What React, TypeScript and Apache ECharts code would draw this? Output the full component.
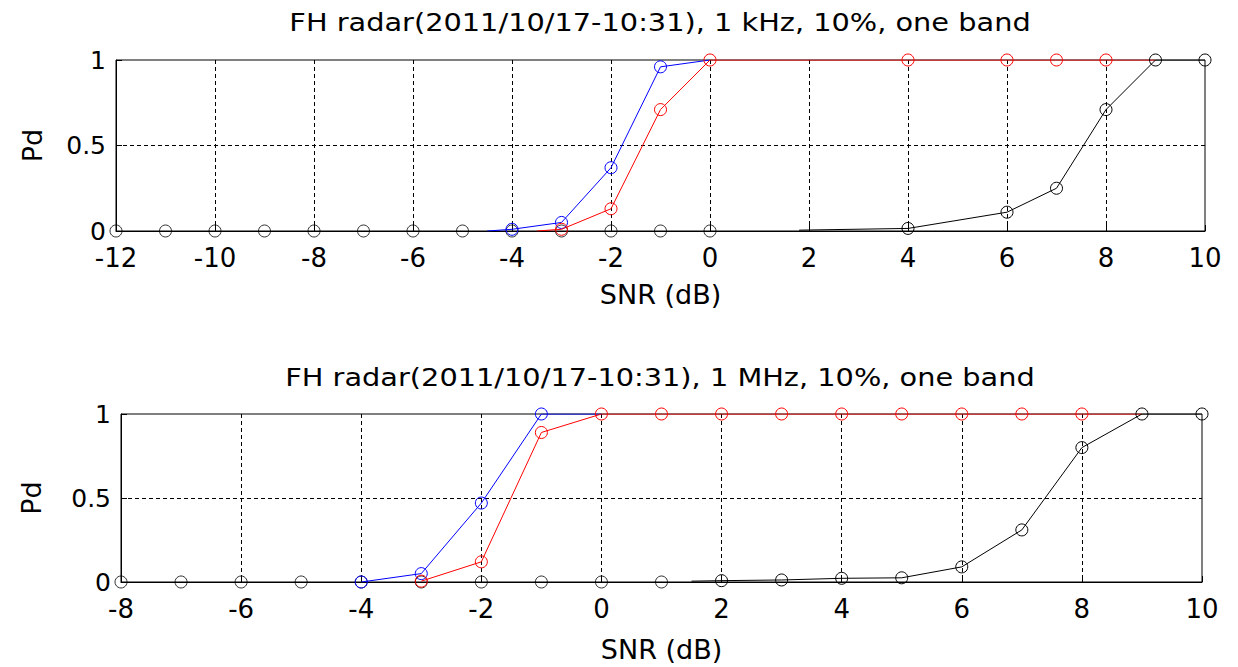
import React, { useEffect, useRef } from "react";
import * as echarts from "echarts";

// ---------- data ----------
const titleTop = "FH radar(2011/10/17-10:31), 1 kHz, 10%, one band";
const titleBottom = "FH radar(2011/10/17-10:31), 1 MHz, 10%, one band";
const xAxisName = "SNR (dB)";
const yAxisName = "Pd";

// Top panel (1 kHz)
const topBlackDotsX = [-12, -11, -10, -9, -8, -7, -6, -5, -4, -3, -2, -1, 0];
const topBlackDotsY = [0, 0, 0, 0, 0, 0, 0, 0, 0, 0, 0, 0, 0];
const topBlackX = [1.8, 4, 6, 7, 8, 9, 10];
const topBlackY = [0.005, 0.015, 0.11, 0.25, 0.71, 1, 1];
const topBlackMarker = [false, true, true, true, true, true, true];
const topBlueX = [-4.5, -4, -3, -2, -1, 0];
const topBlueY = [0, 0.01, 0.05, 0.37, 0.96, 1];
const topBlueMarker = [false, true, true, true, true, false];
const topRedX = [-3.5, -3, -2, -1, 0, 4, 6, 7, 8, 9];
const topRedY = [0, 0.01, 0.13, 0.71, 1, 1, 1, 1, 1, 1];
const topRedMarker = [false, true, true, true, true, true, true, true, true, false];

// Bottom panel (1 MHz)
const botBlackDotsX = [-8, -7, -6, -5, -4, -3, -2, -1, 0, 1];
const botBlackDotsY = [0, 0, 0, 0, 0, 0, 0, 0, 0, 0];
const botBlackX = [1.5, 2, 3, 4, 5, 6, 7, 8, 9, 10];
const botBlackY = [0.005, 0.008, 0.012, 0.022, 0.025, 0.09, 0.31, 0.8, 1, 1];
const botBlackMarker = [false, true, true, true, true, true, true, true, true, true];
const botBlueX = [-4, -3, -2, -1, 0];
const botBlueY = [0, 0.05, 0.47, 1, 1];
const botBlueMarker = [true, true, true, true, false];
const botRedX = [-3, -2, -1, 0, 1, 2, 3, 4, 5, 6, 7, 8, 9];
const botRedY = [0.005, 0.12, 0.89, 1, 1, 1, 1, 1, 1, 1, 1, 1, 1];
const botRedMarker = [true, true, true, true, true, true, true, true, true, true, true, true, false];

const topXRange = [-12, 10];
const botXRange = [-8, 10];
const xTickStep = 2;
const yTicks = [0, 0.5, 1];

// ---------- styling ----------
const FONT = "DejaVu Sans";
const BLUE = "#0000ff";
const RED = "#ff0000";
const BLACK = "#000000";

function buildData(xs: number[], ys: number[], marks?: boolean[]) {
  return xs.map((x, i) =>
    marks && !marks[i] ? { value: [x, ys[i]], symbol: "none" } : { value: [x, ys[i]] }
  );
}

function lineSeries(idx: number, color: string, xs: number[], ys: number[], marks: boolean[], z: number) {
  return {
    type: "line",
    xAxisIndex: idx,
    yAxisIndex: idx,
    data: buildData(xs, ys, marks),
    symbol: "circle",
    symbolSize: 12,
    showSymbol: true,
    showAllSymbol: true,
    z,
    lineStyle: { color, width: 1 },
    itemStyle: { color: "rgba(0,0,0,0)", borderColor: color, borderWidth: 1 },
    emphasis: { disabled: true },
  };
}

function dotSeries(idx: number, xs: number[], ys: number[]) {
  return {
    type: "scatter",
    xAxisIndex: idx,
    yAxisIndex: idx,
    data: buildData(xs, ys),
    symbol: "circle",
    symbolSize: 12,
    z: 2,
    itemStyle: { color: "rgba(0,0,0,0)", borderColor: BLACK, borderWidth: 1 },
    emphasis: { disabled: true },
  };
}

function xAxis(idx: number, range: number[], nameGap: number) {
  return {
    gridIndex: idx,
    type: "value",
    min: range[0],
    max: range[1],
    interval: xTickStep,
    axisLine: { onZero: false, lineStyle: { color: BLACK, width: 1 } },
    axisTick: { inside: true, length: 6, lineStyle: { color: BLACK } },
    axisLabel: { color: BLACK, fontSize: 26, fontFamily: FONT, margin: 14 },
    splitLine: { show: true, showMinLine: false, showMaxLine: false, lineStyle: { color: BLACK, width: 1, type: [4, 3] } },
    name: xAxisName,
    nameLocation: "middle",
    nameGap,
    nameTextStyle: { color: BLACK, fontSize: 27, fontFamily: FONT },
  };
}

function yAxis(idx: number, nameGap: number) {
  return {
    gridIndex: idx,
    type: "value",
    min: yTicks[0],
    max: yTicks[yTicks.length - 1],
    interval: yTicks[1] - yTicks[0],
    axisLine: { show: true, onZero: false, lineStyle: { color: BLACK, width: 1 } },
    axisTick: { show: true, inside: true, length: 6, lineStyle: { color: BLACK } },
    axisLabel: { color: BLACK, fontSize: 25, fontFamily: FONT, margin: 10 },
    splitLine: { show: true, showMinLine: false, showMaxLine: false, lineStyle: { color: BLACK, width: 1, type: [4, 3] } },
    name: yAxisName,
    nameLocation: "middle",
    nameGap,
    nameTextStyle: { color: BLACK, fontSize: 27, fontFamily: FONT },
  };
}

function titleText(text: string, x: number, y: number) {
  return {
    type: "text",
    x,
    y,
    scaleX: 1.2,
    z: 10,
    style: {
      text,
      fill: BLACK,
      fontSize: 24,
      fontFamily: FONT,
      align: "center",
      verticalAlign: "middle",
    },
  };
}

export default function App() {
  const ref = useRef<HTMLDivElement>(null);
  useEffect(() => {
    if (!ref.current) return;
    const chart = echarts.init(ref.current, undefined, { renderer: "svg" });
    chart.setOption({
      animation: false,
      backgroundColor: "#ffffff",
      grid: [
        { left: 116, top: 60, width: 1089, height: 171, show: true, borderColor: BLACK, borderWidth: 1, backgroundColor: "transparent" },
        { left: 121, top: 414, width: 1081, height: 168, show: true, borderColor: BLACK, borderWidth: 1, backgroundColor: "transparent" },
      ],
      xAxis: [xAxis(0, topXRange, 50), xAxis(1, botXRange, 54)],
      yAxis: [yAxis(0, 70), yAxis(1, 76)],
      graphic: [titleText(titleTop, 660, 22), titleText(titleBottom, 660, 377)],
      series: [
        dotSeries(0, topBlackDotsX, topBlackDotsY),
        lineSeries(0, BLUE, topBlueX, topBlueY, topBlueMarker, 3),
        lineSeries(0, RED, topRedX, topRedY, topRedMarker, 4),
        lineSeries(0, BLACK, topBlackX, topBlackY, topBlackMarker, 5),
        dotSeries(1, botBlackDotsX, botBlackDotsY),
        lineSeries(1, BLUE, botBlueX, botBlueY, botBlueMarker, 3),
        lineSeries(1, RED, botRedX, botRedY, botRedMarker, 4),
        lineSeries(1, BLACK, botBlackX, botBlackY, botBlackMarker, 5),
      ],
    });
    return () => chart.dispose();
  }, []);
  return (
    <div
      ref={ref}
      style={{ position: "fixed", left: 0, top: 0, width: 1238, height: 667, background: "#fff" }}
    />
  );
}
